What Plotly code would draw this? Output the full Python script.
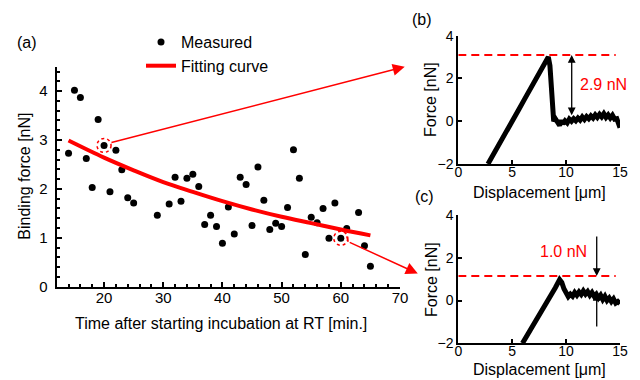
import plotly.graph_objects as go

# ---------------- data ----------------
time_min = [14, 15, 16, 17, 18, 19, 20, 21, 22, 23, 24, 25, 29, 31, 32, 33, 34, 35, 36, 37,
            38, 39, 40, 41, 42, 43, 44, 45, 46, 47, 48, 49, 50, 51, 52, 53, 54, 55, 56, 57,
            58, 59, 60, 61, 63, 64, 65]
binding_force = [2.73, 4.02, 3.87, 2.62, 2.03, 3.42, 2.89, 1.94, 2.79, 2.39, 1.82, 1.71, 1.46,
                 1.69, 2.24, 1.75, 2.22, 2.30, 2.05, 1.27, 1.46, 1.23, 0.89, 1.63, 1.08, 2.24,
                 2.09, 1.25, 2.45, 1.77, 1.17, 1.30, 1.23, 1.62, 2.80, 2.22, 0.66, 1.42, 1.31,
                 1.60, 0.99, 1.71, 0.99, 1.19, 1.52, 0.84, 0.42]

fit_time = [14, 20, 25, 30, 35, 40, 45, 50, 55, 60, 65]
fit_force = [2.99, 2.64, 2.38, 2.14, 1.94, 1.75, 1.58, 1.43, 1.30, 1.17, 1.05]

b_disp = [2.75, 3.3, 3.9, 4.5, 5.0, 5.6, 6.2, 6.8, 7.3, 7.8, 8.1, 8.35, 8.5, 8.62, 8.72,
          8.85, 9.0, 9.2, 9.4, 9.55, 9.7, 9.9, 10.1, 10.3, 10.5, 10.7, 10.9, 11.1, 11.3,
          11.5, 11.7, 11.9, 12.1, 12.3, 12.5, 12.7, 12.9, 13.1, 13.3, 13.5, 13.7, 13.9,
          14.1, 14.3, 14.5, 14.7, 14.85, 15.0]
b_force = [-2.0, -1.53, -0.99, -0.45, 0.0, 0.54, 1.08, 1.62, 2.07, 2.52, 2.79, 3.0, 2.6,
           1.6, 0.3, 0.0, 0.12, -0.05, -0.2, 0.05, -0.12, 0.02, -0.08, 0.1, 0.0, 0.12, 0.02,
           0.15, 0.05, 0.2, 0.08, 0.22, 0.12, 0.25, 0.15, 0.3, 0.18, 0.32, 0.2, 0.35, 0.18,
           0.3, 0.15, 0.28, 0.1, 0.12, -0.15, -0.3]

c_disp = [5.95, 6.5, 7.0, 7.5, 8.0, 8.5, 9.0, 9.4, 9.6, 9.8, 10.0, 10.2, 10.4, 10.6, 10.8,
          11.0, 11.2, 11.4, 11.6, 11.8, 12.0, 12.2, 12.4, 12.6, 12.8, 13.0, 13.2, 13.4,
          13.6, 13.8, 14.0, 14.2, 14.4, 14.6, 14.8, 15.0]
c_force = [-2.0, -1.55, -1.12, -0.7, -0.27, 0.16, 0.6, 0.98, 0.85, 0.55, 0.35, 0.18, 0.3,
           0.2, 0.38, 0.25, 0.4, 0.28, 0.45, 0.3, 0.42, 0.25, 0.38, 0.2, 0.3, 0.12, 0.25,
           0.05, 0.2, 0.0, 0.12, -0.05, 0.08, -0.12, -0.05, -0.15]

b_level = 3.1      # dashed line in (b)
b_arrow = [10.52, 0.21]   # x, lower end
c_level = 1.15     # dashed line in (c)
c_arrow = [12.84, 3.07, 0.36, -1.29]
sel_pts = [(20, 2.89), (60, 0.99)]

W, H = 640, 380
FONT = "Arial, Liberation Sans, sans-serif"
RED = "#ff0000"


def px(x):
    return x / W


def py(y):
    return 1 - y / H


fig = go.Figure()

fig.add_trace(go.Scatter(x=time_min, y=binding_force, mode="markers", name="Measured",
                         marker=dict(color="black", size=7), xaxis="x", yaxis="y",
                         cliponaxis=False))
fig.add_trace(go.Scatter(x=fit_time, y=fit_force, mode="lines", name="Fitting curve",
                         line=dict(color=RED, width=4, shape="spline"), xaxis="x", yaxis="y"))
fig.add_trace(go.Scatter(x=b_disp, y=b_force, mode="lines", showlegend=False,
                         line=dict(color="black", width=5), xaxis="x2", yaxis="y2"))
fig.add_trace(go.Scatter(x=c_disp, y=c_force, mode="lines", showlegend=False,
                         line=dict(color="black", width=5), xaxis="x3", yaxis="y3"))

ax_common = dict(showline=True, linecolor="black", linewidth=2, mirror=False,
                 showgrid=False, zeroline=False, ticks="inside", tickcolor="black",
                 tickwidth=1.5, automargin=False,
                 tickfont=dict(family=FONT, size=15, color="black"))
ax_small = {**ax_common, "tickfont": dict(family=FONT, size=14, color="black")}

fig.update_layout(
    template="none",
    width=W, height=H, margin=dict(l=0, r=0, t=0, b=0, pad=0, autoexpand=False),
    paper_bgcolor="white", plot_bgcolor="white",
    font=dict(family=FONT, size=16, color="black"),
    showlegend=True,
    legend=dict(x=px(141), y=py(25), xanchor="left", yanchor="top",
                bgcolor="rgba(0,0,0,0)", font=dict(size=16), tracegroupgap=0),
    xaxis=dict(domain=[px(56.7), px(400)], range=[12, 70], tick0=0, dtick=10, ticklen=5,
               ticklabelstandoff=-4,
               minor=dict(dtick=2, ticklen=3, ticks="inside", tickcolor="black"),
               anchor="y", **ax_common),
    yaxis=dict(domain=[py(286.7), py(66.7)], range=[0, 4.5], dtick=1, ticklen=5,
               ticklabelstandoff=4,
               minor=dict(dtick=0.2, ticklen=3, ticks="inside", tickcolor="black"),
               anchor="x", **ax_common),
    xaxis2=dict(domain=[px(458.3), px(620)], range=[0, 15], dtick=5, ticklen=4,
                ticklabelstandoff=-6, anchor="y2", **ax_small),
    yaxis2=dict(domain=[py(164), py(35.7)], range=[-2, 4], dtick=2, ticklen=4,
                anchor="x2", **ax_small),
    xaxis3=dict(domain=[px(458.3), px(620)], range=[0, 15], dtick=5, ticklen=4,
                ticklabelstandoff=-6, anchor="y3", **ax_small),
    yaxis3=dict(domain=[py(343.3), py(215)], range=[-2, 4], dtick=2, ticklen=4,
                anchor="x3", **ax_small),
)

shapes = []
# dashed circles around selected points
for (sx, sy) in sel_pts:
    shapes.append(dict(type="circle", xref="x", yref="y", xsizemode="pixel", ysizemode="pixel",
                       xanchor=sx, yanchor=sy, x0=-7, x1=7, y0=-7, y1=7,
                       line=dict(color=RED, width=1.5, dash="dot")))
# hook of second arrow
shapes.append(dict(type="line", xref="x", yref="y", x0=61.0, y0=1.03, x1=61.25, y1=0.92,
                   line=dict(color=RED, width=1.5)))
# dashed levels
shapes.append(dict(type="line", xref="x2", yref="y2", x0=0, x1=14.6, y0=b_level, y1=b_level,
                   line=dict(color=RED, width=2, dash="8px,5px")))
shapes.append(dict(type="line", xref="x3", yref="y3", x0=0, x1=14.6, y0=c_level, y1=c_level,
                   line=dict(color=RED, width=2, dash="8px,5px")))
fig.update_layout(shapes=shapes)

ann = []
# red connecting arrows
ann.append(dict(xref="x", yref="y", axref="x", ayref="y", x=70.8, y=4.5, ax=21.0, ay=2.94,
                showarrow=True, arrowhead=2, arrowsize=1.6, arrowwidth=1.5, arrowcolor=RED,
                text=""))
ann.append(dict(xref="x", yref="y", axref="x", ayref="y", x=73.0, y=0.27, ax=61.25, ay=0.92,
                showarrow=True, arrowhead=2, arrowsize=1.6, arrowwidth=1.5, arrowcolor=RED,
                text=""))
# black arrows in (b)
ann.append(dict(xref="x2", yref="y2", axref="x2", ayref="y2", x=b_arrow[0], y=b_level,
                ax=b_arrow[0], ay=b_arrow[1], showarrow=True, arrowhead=2, startarrowhead=2,
                arrowside="end+start", arrowsize=1.2, startarrowsize=1.2, arrowwidth=1.3,
                arrowcolor="black", text=""))
# black arrows in (c)
ann.append(dict(xref="x3", yref="y3", axref="x3", ayref="y3", x=c_arrow[0], y=c_level,
                ax=c_arrow[0], ay=c_arrow[1], showarrow=True, arrowhead=2, arrowsize=1.2,
                arrowwidth=1.3, arrowcolor="black", text=""))
ann.append(dict(xref="x3", yref="y3", axref="x3", ayref="y3", x=c_arrow[0], y=c_arrow[2],
                ax=c_arrow[0], ay=c_arrow[3], showarrow=True, arrowhead=2, arrowsize=1.2,
                arrowwidth=1.3, arrowcolor="black", text=""))
# value labels
ann.append(dict(xref="x2", yref="y2", x=11.1, y=1.7, xanchor="left", yanchor="middle",
                text="2.9 nN", showarrow=False, font=dict(size=16, color=RED)))
ann.append(dict(xref="x3", yref="y3", x=9.8, y=2.28, xanchor="center", yanchor="middle",
                text="1.0 nN", showarrow=False, font=dict(size=16, color=RED)))


def txt(x, y, t, angle=0, size=16):
    return dict(xref="paper", yref="paper", x=px(x), y=py(y), xanchor="center",
                yanchor="middle", text=t, showarrow=False, textangle=angle,
                font=dict(size=size, color="black"))


ann += [
    txt(27, 42, "(a)"), txt(422, 20, "(b)"), txt(424, 196, "(c)"),
    txt(221, 323, "Time after starting incubation at RT [min.]"),
    txt(25, 176.7, "Binding force [nN]", -90),
    txt(431, 100, "Force [nN]", -90), txt(431, 280, "Force [nN]", -90),
    txt(539, 192, "Displacement [μm]"), txt(539, 369, "Displacement [μm]"),
]
fig.update_layout(annotations=ann)

fig.write_html("out.html", config={"displayModeBar": False},
               post_script="document.body.style.margin='0';document.body.style.padding='0';"
                           "document.body.style.overflow='hidden';")
